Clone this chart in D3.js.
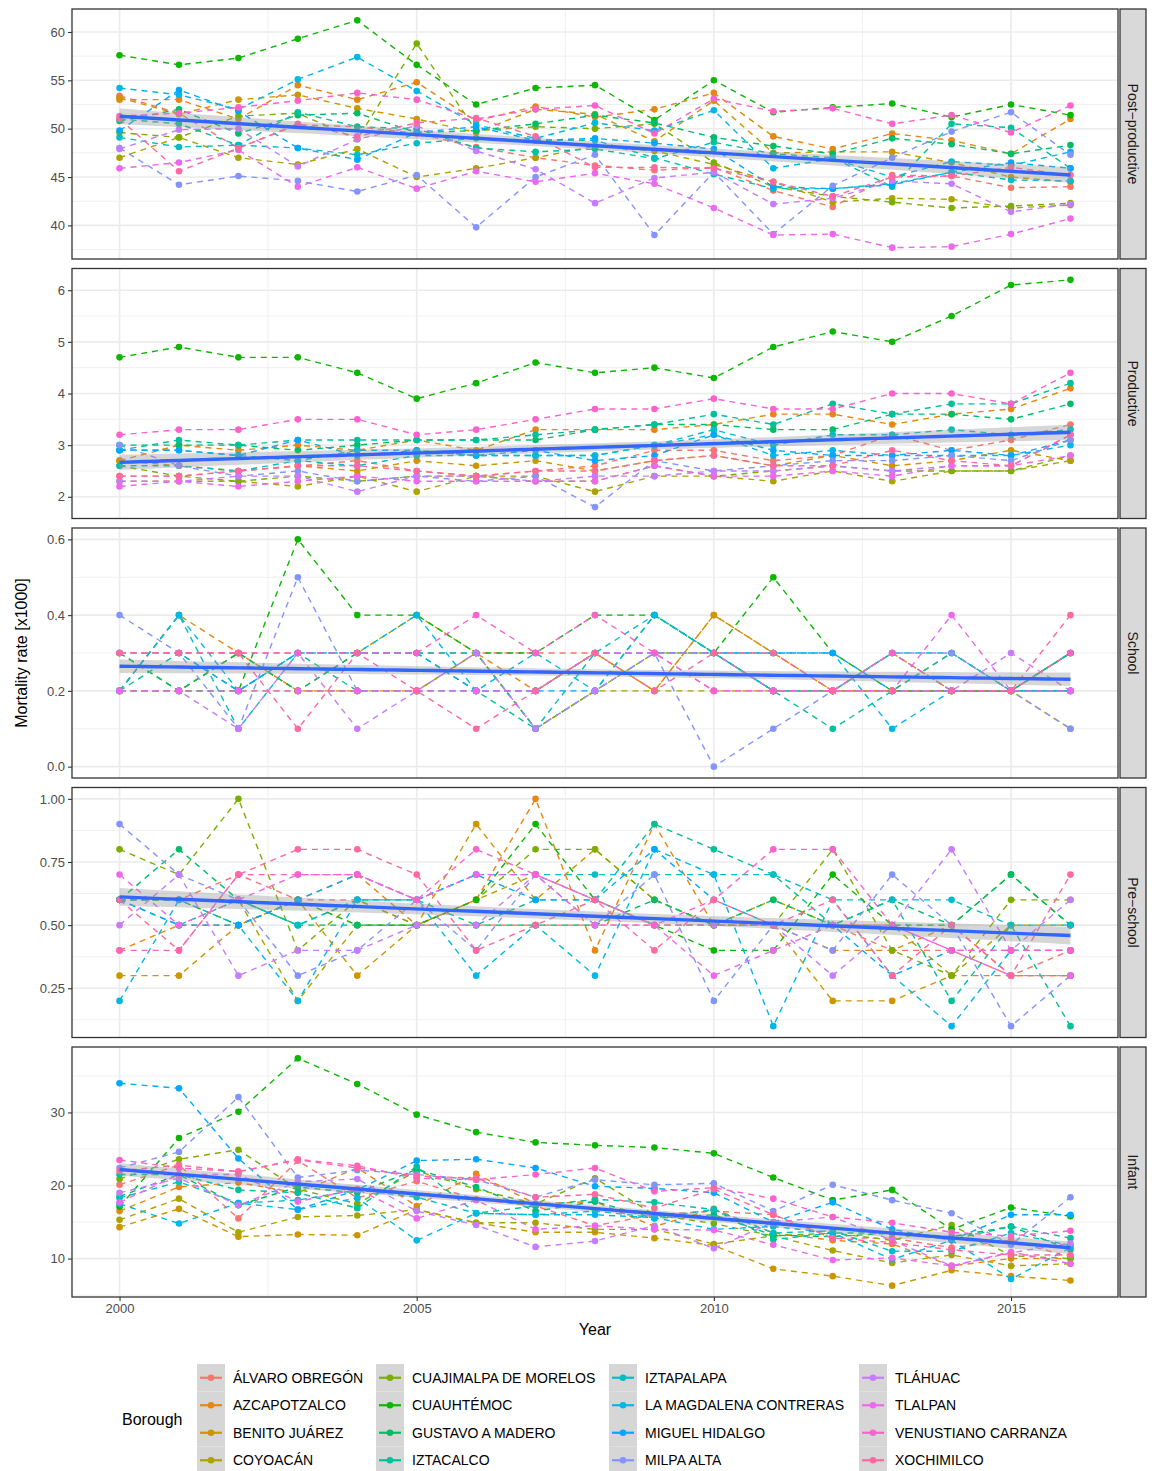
<!DOCTYPE html>
<html>
<head>
<meta charset="utf-8">
<script src="https://cdn.jsdelivr.net/npm/d3@7/dist/d3.min.js"></script>
<style>
  body { margin: 0; background: #fff; }
  svg { display: block; }
  text { font-family: "Liberation Sans", Arial, Helvetica, sans-serif; }
</style>
</head>
<body>
<div id="chart"></div>
<script>
const years = [2000, 2001, 2002, 2003, 2004, 2005, 2006, 2007, 2008, 2009, 2010, 2011, 2012, 2013, 2014, 2015, 2016];

const boroughs = ['ÁLVARO OBREGÓN', 'AZCAPOTZALCO', 'BENITO JUÁREZ', 'COYOACÁN',
  'CUAJIMALPA DE MORELOS', 'CUAUHTÉMOC', 'GUSTAVO A MADERO', 'IZTACALCO',
  'IZTAPALAPA', 'LA MAGDALENA CONTRERAS', 'MIGUEL HIDALGO', 'MILPA ALTA',
  'TLÁHUAC', 'TLALPAN', 'VENUSTIANO CARRANZA', 'XOCHIMILCO'];

// one row per borough (same order as above), one value per year
const postProductive = [
  [53.4, 51.6, 48.0, 50.4, 50.2, 49.5, 48.1, 47.0, 46.2, 45.7, 46.0, 43.6, 41.9, 45.2, 45.1, 43.9, 44.0],
  [53.0, 53.0, 51.0, 54.5, 53.0, 54.8, 50.8, 52.3, 51.2, 52.0, 53.7, 49.2, 47.9, 49.5, 48.8, 47.4, 51.0],
  [53.2, 51.5, 53.0, 53.5, 52.1, 51.0, 49.6, 52.0, 51.5, 48.7, 52.9, 47.5, 47.6, 47.6, 46.5, 45.0, 44.5],
  [47.0, 49.1, 47.0, 46.3, 47.9, 45.0, 45.9, 47.0, 48.2, 47.7, 46.3, 44.5, 42.4, 42.8, 42.7, 41.8, 42.1],
  [49.6, 49.1, 51.3, 51.6, 48.9, 58.8, 49.8, 50.2, 50.0, 50.5, 46.5, 44.0, 43.0, 42.4, 41.8, 42.0, 42.3],
  [57.6, 56.6, 57.3, 59.3, 61.2, 56.6, 52.5, 54.2, 54.5, 50.9, 55.0, 51.7, 52.2, 52.6, 51.2, 52.5, 51.4],
  [50.8, 52.0, 49.5, 51.4, 51.6, 49.6, 49.8, 50.5, 51.4, 50.6, 49.1, 48.2, 47.4, 49.0, 48.4, 47.4, 48.3],
  [51.0, 50.5, 48.3, 51.7, 50.2, 50.0, 48.0, 47.6, 47.9, 46.9, 48.6, 47.4, 47.0, 44.0, 50.5, 50.1, 45.9],
  [49.1, 48.1, 48.3, 48.0, 47.3, 48.5, 49.0, 48.8, 48.8, 47.0, 45.3, 43.8, 43.8, 44.3, 45.5, 44.7, 44.6],
  [54.2, 53.5, 52.0, 55.1, 57.4, 53.9, 50.4, 49.0, 50.6, 49.8, 51.9, 45.9, 46.9, 45.0, 46.6, 46.2, 47.6],
  [49.8, 54.0, 51.8, 48.0, 46.8, 49.6, 50.2, 48.8, 49.0, 48.5, 47.9, 44.0, 43.8, 44.2, 45.5, 46.5, 45.9],
  [48.0, 44.2, 45.1, 44.6, 43.5, 45.2, 39.8, 45.0, 47.3, 39.0, 45.5, 39.1, 44.1, 47.0, 49.7, 51.7, 47.3],
  [47.9, 49.9, 50.0, 46.1, 48.9, 50.3, 47.7, 45.8, 42.3, 44.9, 45.5, 42.2, 42.8, 44.6, 44.3, 41.4, 42.2],
  [45.9, 46.5, 47.8, 44.0, 46.0, 43.8, 45.6, 44.5, 45.4, 44.3, 41.8, 39.0, 39.1, 37.7, 37.8, 39.1, 40.7],
  [51.3, 51.6, 52.2, 52.9, 53.7, 53.0, 51.0, 52.0, 52.4, 49.5, 53.1, 51.8, 52.1, 50.5, 51.4, 49.6, 52.4],
  [51.0, 45.6, 48.0, 50.5, 49.2, 50.6, 51.1, 49.2, 46.0, 46.0, 45.9, 44.5, 43.0, 45.0, 45.1, 46.0, 45.2]
];

const productive = [
  [2.4, 2.4, 2.5, 2.6, 2.7, 2.5, 2.4, 2.5, 2.6, 2.9, 2.9, 2.7, 2.8, 3.2, 2.9, 3.1, 3.4],
  [2.7, 3.0, 2.9, 3.0, 2.9, 3.1, 2.9, 3.3, 3.3, 3.3, 3.4, 3.6, 3.6, 3.4, 3.6, 3.7, 4.1],
  [2.7, 2.6, 2.5, 2.6, 2.5, 2.7, 2.6, 2.7, 2.5, 2.7, 2.8, 2.6, 2.8, 2.6, 2.7, 2.9, 2.7],
  [2.3, 2.3, 2.3, 2.2, 2.4, 2.1, 2.4, 2.4, 2.1, 2.4, 2.4, 2.3, 2.5, 2.3, 2.5, 2.5, 2.7],
  [2.6, 2.4, 2.3, 2.4, 2.3, 2.4, 2.4, 2.3, 2.3, 2.6, 2.4, 2.5, 2.6, 2.5, 2.5, 2.5, 2.8],
  [4.7, 4.9, 4.7, 4.7, 4.4, 3.9, 4.2, 4.6, 4.4, 4.5, 4.3, 4.9, 5.2, 5.0, 5.5, 6.1, 6.2],
  [3.0, 3.0, 3.0, 2.9, 3.0, 3.1, 3.1, 3.1, 3.3, 3.4, 3.4, 3.3, 3.3, 3.6, 3.6, 3.5, 3.8],
  [2.9, 3.1, 3.0, 3.1, 3.1, 3.1, 3.1, 3.2, 3.3, 3.4, 3.6, 3.4, 3.8, 3.6, 3.8, 3.8, 4.2],
  [2.6, 2.6, 2.5, 2.7, 2.6, 2.8, 2.8, 2.8, 2.8, 3.0, 3.3, 3.0, 3.2, 3.2, 3.3, 3.2, 3.3],
  [2.9, 2.9, 2.8, 2.7, 2.9, 2.9, 2.8, 2.8, 2.8, 3.0, 3.2, 2.8, 2.9, 2.8, 2.8, 2.8, 3.0],
  [2.9, 2.9, 2.8, 3.1, 2.8, 2.9, 2.8, 2.9, 2.7, 2.8, 3.2, 2.9, 2.8, 2.8, 2.9, 2.8, 3.1],
  [3.0, 2.6, 2.4, 2.5, 2.3, 2.4, 2.3, 2.4, 1.8, 2.7, 2.5, 2.6, 2.7, 2.7, 2.8, 2.7, 3.1],
  [2.3, 2.3, 2.4, 2.4, 2.1, 2.4, 2.4, 2.3, 2.4, 2.4, 2.5, 2.5, 2.6, 2.5, 2.6, 2.6, 3.2],
  [2.2, 2.3, 2.2, 2.3, 2.4, 2.3, 2.3, 2.3, 2.3, 2.6, 2.4, 2.4, 2.5, 2.4, 2.6, 2.6, 2.8],
  [3.2, 3.3, 3.3, 3.5, 3.5, 3.2, 3.3, 3.5, 3.7, 3.7, 3.9, 3.7, 3.7, 4.0, 4.0, 3.8, 4.4],
  [2.4, 2.4, 2.5, 2.6, 2.6, 2.5, 2.4, 2.5, 2.5, 2.7, 2.8, 2.6, 2.6, 2.9, 2.7, 2.6, 3.2]
];

const school = [
  [0.3, 0.3, 0.3, 0.3, 0.3, 0.3, 0.3, 0.3, 0.3, 0.3, 0.3, 0.2, 0.2, 0.2, 0.2, 0.2, 0.3],
  [0.2, 0.4, 0.3, 0.2, 0.2, 0.2, 0.3, 0.2, 0.3, 0.2, 0.4, 0.3, 0.2, 0.3, 0.2, 0.2, 0.2],
  [0.2, 0.2, 0.3, 0.2, 0.2, 0.2, 0.2, 0.2, 0.3, 0.2, 0.4, 0.3, 0.2, 0.2, 0.3, 0.2, 0.1],
  [0.2, 0.2, 0.3, 0.2, 0.3, 0.4, 0.3, 0.1, 0.2, 0.2, 0.2, 0.2, 0.2, 0.2, 0.2, 0.2, 0.2],
  [0.3, 0.2, 0.2, 0.2, 0.2, 0.2, 0.3, 0.1, 0.2, 0.3, 0.3, 0.2, 0.2, 0.2, 0.2, 0.2, 0.3],
  [0.2, 0.2, 0.2, 0.6, 0.4, 0.4, 0.3, 0.3, 0.4, 0.4, 0.3, 0.5, 0.3, 0.2, 0.2, 0.2, 0.3],
  [0.3, 0.2, 0.3, 0.2, 0.3, 0.3, 0.2, 0.2, 0.3, 0.3, 0.3, 0.2, 0.2, 0.3, 0.2, 0.2, 0.3],
  [0.2, 0.3, 0.2, 0.3, 0.2, 0.2, 0.2, 0.1, 0.2, 0.4, 0.3, 0.2, 0.1, 0.2, 0.3, 0.2, 0.2],
  [0.2, 0.4, 0.1, 0.3, 0.3, 0.3, 0.3, 0.1, 0.3, 0.4, 0.3, 0.2, 0.2, 0.3, 0.3, 0.2, 0.3],
  [0.2, 0.4, 0.2, 0.3, 0.3, 0.4, 0.2, 0.3, 0.2, 0.4, 0.3, 0.3, 0.3, 0.1, 0.2, 0.2, 0.2],
  [0.3, 0.3, 0.2, 0.3, 0.3, 0.3, 0.2, 0.2, 0.2, 0.3, 0.3, 0.3, 0.3, 0.2, 0.2, 0.2, 0.2],
  [0.4, 0.3, 0.1, 0.5, 0.2, 0.2, 0.2, 0.2, 0.3, 0.3, 0.0, 0.1, 0.2, 0.3, 0.3, 0.2, 0.1],
  [0.2, 0.2, 0.1, 0.3, 0.1, 0.2, 0.3, 0.1, 0.2, 0.3, 0.3, 0.2, 0.2, 0.2, 0.2, 0.3, 0.2],
  [0.2, 0.2, 0.2, 0.2, 0.2, 0.2, 0.2, 0.2, 0.3, 0.3, 0.2, 0.2, 0.2, 0.2, 0.4, 0.2, 0.2],
  [0.3, 0.3, 0.3, 0.3, 0.3, 0.3, 0.4, 0.3, 0.4, 0.3, 0.2, 0.2, 0.2, 0.3, 0.2, 0.2, 0.3],
  [0.3, 0.3, 0.3, 0.1, 0.3, 0.2, 0.1, 0.2, 0.3, 0.2, 0.3, 0.3, 0.2, 0.2, 0.2, 0.2, 0.4]
];

const preSchool = [
  [0.6, 0.6, 0.7, 0.6, 0.6, 0.5, 0.5, 0.5, 0.5, 0.5, 0.5, 0.5, 0.5, 0.4, 0.4, 0.3, 0.4],
  [0.4, 0.5, 0.5, 0.6, 0.7, 0.5, 0.6, 1.0, 0.4, 0.9, 0.5, 0.5, 0.4, 0.4, 0.5, 0.3, 0.3],
  [0.3, 0.3, 0.5, 0.6, 0.3, 0.5, 0.9, 0.6, 0.8, 0.6, 0.5, 0.5, 0.2, 0.2, 0.3, 0.3, 0.3],
  [0.6, 0.6, 0.6, 0.2, 0.5, 0.5, 0.6, 0.7, 0.6, 0.5, 0.5, 0.6, 0.5, 0.5, 0.3, 0.5, 0.5],
  [0.8, 0.7, 1.0, 0.4, 0.6, 0.5, 0.6, 0.8, 0.8, 0.6, 0.5, 0.5, 0.8, 0.4, 0.3, 0.6, 0.6],
  [0.6, 0.6, 0.5, 0.6, 0.5, 0.5, 0.6, 0.9, 0.6, 0.5, 0.4, 0.4, 0.7, 0.5, 0.5, 0.7, 0.5],
  [0.6, 0.8, 0.6, 0.5, 0.5, 0.5, 0.5, 0.5, 0.5, 0.6, 0.5, 0.6, 0.5, 0.6, 0.5, 0.7, 0.5],
  [0.6, 0.5, 0.6, 0.5, 0.6, 0.6, 0.5, 0.6, 0.6, 0.9, 0.8, 0.7, 0.5, 0.6, 0.2, 0.5, 0.1],
  [0.6, 0.6, 0.6, 0.5, 0.6, 0.6, 0.7, 0.7, 0.7, 0.7, 0.7, 0.7, 0.6, 0.6, 0.6, 0.5, 0.5],
  [0.2, 0.6, 0.5, 0.2, 0.6, 0.6, 0.3, 0.5, 0.3, 0.8, 0.7, 0.1, 0.6, 0.3, 0.1, 0.4, 0.4],
  [0.6, 0.5, 0.5, 0.6, 0.7, 0.6, 0.7, 0.6, 0.6, 0.8, 0.6, 0.5, 0.5, 0.3, 0.4, 0.4, 0.4],
  [0.9, 0.7, 0.6, 0.3, 0.4, 0.6, 0.4, 0.7, 0.5, 0.7, 0.2, 0.5, 0.4, 0.7, 0.5, 0.1, 0.3],
  [0.5, 0.7, 0.3, 0.4, 0.4, 0.5, 0.5, 0.7, 0.6, 0.5, 0.5, 0.5, 0.3, 0.5, 0.8, 0.4, 0.6],
  [0.7, 0.5, 0.6, 0.7, 0.7, 0.6, 0.7, 0.7, 0.5, 0.5, 0.3, 0.4, 0.5, 0.5, 0.4, 0.3, 0.3],
  [0.4, 0.4, 0.7, 0.7, 0.7, 0.6, 0.8, 0.7, 0.6, 0.5, 0.6, 0.8, 0.8, 0.5, 0.4, 0.4, 0.4],
  [0.6, 0.4, 0.7, 0.8, 0.8, 0.7, 0.4, 0.5, 0.6, 0.4, 0.6, 0.5, 0.6, 0.3, 0.5, 0.3, 0.7]
];

const infant = [
  [20.1, 22.8, 15.5, 23.4, 18.3, 20.6, 18.1, 17.2, 14.5, 16.0, 16.5, 16.0, 12.8, 12.8, 11.5, 12.5, 10.2],
  [16.5, 19.8, 20.4, 19.0, 22.4, 17.2, 21.6, 17.5, 17.8, 14.4, 16.8, 13.5, 12.5, 12.0, 9.0, 10.0, 10.0],
  [14.3, 16.8, 13.0, 13.3, 13.2, 16.7, 14.9, 13.6, 13.6, 12.8, 11.8, 8.6, 7.6, 6.3, 8.4, 7.6, 7.0],
  [15.3, 18.2, 13.6, 15.7, 15.9, 16.7, 14.9, 14.9, 14.0, 14.0, 12.0, 13.1, 11.1, 9.4, 10.5, 9.0, 9.3],
  [20.9, 23.6, 24.9, 19.5, 17.5, 22.0, 19.5, 17.5, 21.0, 16.0, 14.8, 13.1, 13.5, 12.5, 14.6, 10.4, 10.0],
  [17.1, 26.5, 30.1, 37.4, 33.9, 29.7, 27.3, 25.9, 25.5, 25.2, 24.4, 21.1, 18.0, 19.4, 14.0, 17.0, 15.8],
  [18.5, 21.5, 17.3, 19.8, 19.0, 22.2, 19.8, 16.5, 17.8, 15.5, 16.0, 13.2, 13.0, 13.5, 13.0, 14.4, 11.2],
  [21.5, 21.5, 19.4, 19.0, 16.9, 22.6, 16.2, 17.2, 18.1, 17.7, 16.7, 12.6, 13.5, 13.5, 12.6, 14.4, 12.8],
  [18.3, 20.5, 17.6, 18.0, 19.4, 18.4, 16.2, 16.0, 16.5, 15.6, 16.7, 13.5, 13.8, 11.0, 11.0, 13.5, 11.8],
  [17.5, 14.8, 17.6, 16.7, 18.3, 12.5, 16.2, 16.0, 16.0, 15.6, 14.0, 14.4, 13.5, 9.9, 12.5, 7.2, 11.5],
  [34.0, 33.3, 23.7, 16.7, 19.4, 23.4, 23.6, 22.4, 19.9, 19.6, 19.0, 15.0, 17.7, 14.0, 12.5, 16.0, 16.0],
  [22.4, 24.6, 32.1, 21.1, 22.1, 21.5, 20.8, 18.4, 20.8, 20.1, 20.3, 16.5, 20.1, 18.0, 16.2, 11.9, 18.4],
  [19.0, 21.0, 17.3, 20.5, 20.9, 16.5, 14.6, 11.6, 12.4, 14.5, 11.4, 15.0, 15.7, 12.5, 9.0, 10.8, 12.1],
  [17.7, 21.5, 21.5, 17.8, 19.5, 15.5, 18.0, 14.0, 14.5, 14.0, 13.9, 11.9, 9.8, 10.1, 9.0, 10.9, 9.3],
  [23.5, 22.4, 21.9, 23.6, 22.7, 21.0, 20.8, 21.5, 22.4, 19.2, 19.7, 18.2, 15.7, 14.9, 13.6, 13.1, 13.8],
  [22.0, 22.8, 21.9, 23.5, 22.4, 21.3, 21.0, 18.4, 18.8, 16.9, 19.5, 16.0, 12.8, 12.2, 11.2, 10.5, 10.5]
];

const xTicks = [2000, 2005, 2010, 2015];
const postTicks = [40, 45, 50, 55, 60];
const prodTicks = [2, 3, 4, 5, 6];
const schoolTicks = [0, 0.2, 0.4, 0.6];
const preTicks = [0.25, 0.5, 0.75, 1];
const infantTicks = [10, 20, 30];

const panels = [
  { label: 'Post\u2212productive', values: postProductive, ticks: postTicks, fmt: d3.format('d') },
  { label: 'Productive', values: productive, ticks: prodTicks, fmt: d3.format('d') },
  { label: 'School', values: school, ticks: schoolTicks, fmt: d3.format('.1f') },
  { label: 'Pre\u2212school', values: preSchool, ticks: preTicks, fmt: d3.format('.2f') },
  { label: 'Infant', values: infant, ticks: infantTicks, fmt: d3.format('d') }
];

// ggplot2 default hue palette: hcl(h, c = 100, l = 65) in polar CIE-Luv
function hclLuv(h, c, l) {
  const Xn = 95.047, Yn = 100, Zn = 108.883;
  const hr = h * Math.PI / 180;
  const U = c * Math.cos(hr), V = c * Math.sin(hr);
  const Y = l > 7.999592 ? Yn * Math.pow((l + 16) / 116, 3) : Yn * l / 903.3;
  const den = Xn + 15 * Yn + 3 * Zn;
  const u = U / (13 * l) + 4 * Xn / den;
  const v = V / (13 * l) + 9 * Yn / den;
  const X = 9 * Y * u / (4 * v);
  const Z = Y * (12 - 3 * u - 20 * v) / (4 * v);
  const lin = [
    3.240479 * X - 1.537150 * Y - 0.498535 * Z,
    -0.969256 * X + 1.875992 * Y + 0.041556 * Z,
    0.055648 * X - 0.204043 * Y + 1.057311 * Z
  ].map(q => q / 100);
  const g = lin.map(q => q <= 0.0031308 ? 12.92 * q : 1.055 * Math.pow(q, 1 / 2.4) - 0.055);
  return d3.rgb(...g.map(q => Math.round(Math.max(0, Math.min(1, q)) * 255))).formatHex();
}
const hues = d3.range(boroughs.length).map(i => 15 + i * 360 / boroughs.length);
const color = d3.scaleOrdinal().domain(boroughs).range(hues.map(h => hclLuv(h, 100, 65)));

const W = 1152, H = 1471;
const plotL = 72, plotR = 1118;
const panelTop0 = 9, panelH = 250, panelStep = 259.5;
const stripX = 1120, stripW = 26;

const svg = d3.select('#chart').append('svg').attr('width', W).attr('height', H);
svg.append('rect').attr('width', W).attr('height', H).attr('fill', '#fff');

const yrExt = d3.extent(years);
const yrPad = (yrExt[1] - yrExt[0]) * 0.05;
const x = d3.scaleLinear().domain([yrExt[0] - yrPad, yrExt[1] + yrPad]).range([plotL, plotR]);
const xMinor = xTicks.slice(0, -1).map((t, i) => (t + xTicks[i + 1]) / 2);

const line = d3.line();

panels.forEach((p, pi) => {
  const top = panelTop0 + pi * panelStep;
  const all = p.values.flat();
  const ext = d3.extent(all);
  const pad = (ext[1] - ext[0]) * 0.05;
  const y = d3.scaleLinear().domain([ext[0] - pad, ext[1] + pad]).range([top + panelH, top]);
  const dom = y.domain();

  const g = svg.append('g');
  g.append('rect').attr('x', plotL).attr('y', top).attr('width', plotR - plotL).attr('height', panelH).attr('fill', '#fff');

  // grid
  const step = p.ticks[1] - p.ticks[0];
  const yMinor = [p.ticks[0] - step / 2, ...p.ticks.map(t => t + step / 2)].filter(v => v > dom[0] && v < dom[1]);
  g.selectAll('.ymin').data(yMinor).enter().append('line')
    .attr('x1', plotL).attr('x2', plotR).attr('y1', d => y(d)).attr('y2', d => y(d))
    .attr('stroke', '#EBEBEB').attr('stroke-width', 0.8);
  g.selectAll('.xmin').data(xMinor).enter().append('line')
    .attr('y1', top).attr('y2', top + panelH).attr('x1', d => x(d)).attr('x2', d => x(d))
    .attr('stroke', '#EBEBEB').attr('stroke-width', 0.8);
  g.selectAll('.ymaj').data(p.ticks).enter().append('line')
    .attr('x1', plotL).attr('x2', plotR).attr('y1', d => y(d)).attr('y2', d => y(d))
    .attr('stroke', '#EBEBEB').attr('stroke-width', 1.6);
  g.selectAll('.xmaj').data(xTicks).enter().append('line')
    .attr('y1', top).attr('y2', top + panelH).attr('x1', d => x(d)).attr('x2', d => x(d))
    .attr('stroke', '#EBEBEB').attr('stroke-width', 1.6);

  const clipId = 'clip' + pi;
  svg.append('clipPath').attr('id', clipId).append('rect')
    .attr('x', plotL).attr('y', top).attr('width', plotR - plotL).attr('height', panelH);
  const inner = g.append('g').attr('clip-path', `url(#${clipId})`);

  // borough lines
  inner.selectAll('path.series').data(p.values).enter().append('path')
    .attr('fill', 'none')
    .attr('stroke', (d, i) => color(boroughs[i]))
    .attr('stroke-width', 1.4)
    .attr('stroke-dasharray', '6,5')
    .attr('d', d => line(d.map((v, j) => [x(years[j]), y(v)])));

  // points
  p.values.forEach((row, i) => {
    inner.selectAll(null).data(row).enter().append('circle')
      .attr('cx', (v, j) => x(years[j])).attr('cy', v => y(v)).attr('r', 3.3)
      .attr('fill', color(boroughs[i]));
  });

  // linear fit with 95% band
  const pts = [];
  p.values.forEach(row => row.forEach((v, j) => pts.push([years[j], v])));
  const n = pts.length;
  const mx = d3.mean(pts, d => d[0]), my = d3.mean(pts, d => d[1]);
  const sxx = d3.sum(pts, d => (d[0] - mx) ** 2);
  const sxy = d3.sum(pts, d => (d[0] - mx) * (d[1] - my));
  const b = sxy / sxx, a = my - b * mx;
  const s = Math.sqrt(d3.sum(pts, d => (d[1] - a - b * d[0]) ** 2) / (n - 2));
  const tq = 1.9689;
  const grid = d3.range(80).map(k => yrExt[0] + (yrExt[1] - yrExt[0]) * k / 79);
  const fit = grid.map(xx => {
    const se = s * Math.sqrt(1 / n + (xx - mx) ** 2 / sxx);
    const f = a + b * xx;
    return { x: xx, f, lo: f - tq * se, hi: f + tq * se };
  });
  inner.append('path').datum(fit)
    .attr('fill', '#999999').attr('fill-opacity', 0.4)
    .attr('d', d3.area().x(d => x(d.x)).y0(d => y(d.lo)).y1(d => y(d.hi)));
  inner.append('path').datum(fit)
    .attr('fill', 'none').attr('stroke', '#3366FF').attr('stroke-width', 3.4)
    .attr('d', d3.line().x(d => x(d.x)).y(d => y(d.f)));

  g.append('rect').attr('x', plotL).attr('y', top).attr('width', plotR - plotL).attr('height', panelH)
    .attr('fill', 'none').attr('stroke', '#333333').attr('stroke-width', 1.3);

  // y axis
  const ax = g.append('g').attr('transform', `translate(${plotL},0)`)
    .call(d3.axisLeft(y).tickValues(p.ticks).tickFormat(p.fmt).tickSize(4).tickPadding(3));
  ax.select('.domain').remove();
  ax.selectAll('.tick line').attr('stroke', '#333333').attr('stroke-width', 1.1);
  ax.selectAll('.tick text').attr('fill', '#4D4D4D').style('font-size', '13px')
    .style('font-family', '"Liberation Sans", Arial, sans-serif');

  // strip
  g.append('rect').attr('x', stripX).attr('y', top).attr('width', stripW).attr('height', panelH)
    .attr('fill', '#D9D9D9').attr('stroke', '#333333').attr('stroke-width', 1.3);
  g.append('text')
    .attr('transform', `translate(${stripX + stripW / 2},${top + panelH / 2}) rotate(90)`)
    .attr('text-anchor', 'middle').attr('dy', '0.35em')
    .attr('fill', '#1A1A1A').style('font-size', '14px')
    .text(p.label);

  if (pi === panels.length - 1) {
    const xa = g.append('g').attr('transform', `translate(0,${top + panelH})`)
      .call(d3.axisBottom(x).tickValues(xTicks).tickFormat(d3.format('d')).tickSize(4).tickPadding(3));
    xa.select('.domain').remove();
    xa.selectAll('.tick line').attr('stroke', '#333333').attr('stroke-width', 1.1);
    xa.selectAll('.tick text').attr('fill', '#4D4D4D').style('font-size', '13px')
      .style('font-family', '"Liberation Sans", Arial, sans-serif');
  }
});

// axis titles
const lastBottom = panelTop0 + (panels.length - 1) * panelStep + panelH;
svg.append('text').attr('x', (plotL + plotR) / 2).attr('y', lastBottom + 38)
  .attr('text-anchor', 'middle').style('font-size', '16px').attr('fill', '#000').text('Year');
svg.append('text')
  .attr('transform', `translate(27,${(panelTop0 + lastBottom) / 2}) rotate(-90)`)
  .attr('text-anchor', 'middle').style('font-size', '16px').attr('fill', '#000')
  .text('Mortality rate [x1000]');

// legend
const legendCols = [197, 376, 609, 859];
const legendTop = 1364, keyH = 27.5, keyW = 28;
const lg = svg.append('g');
lg.append('text').attr('x', 122).attr('y', legendTop + keyH * 2).attr('dy', '0.35em')
  .style('font-size', '16px').attr('fill', '#000').text('Borough');
boroughs.forEach((b, i) => {
  const col = Math.floor(i / 4), row = i % 4;
  const kx = legendCols[col], ky = legendTop + row * keyH;
  lg.append('rect').attr('x', kx).attr('y', ky).attr('width', keyW).attr('height', keyH).attr('fill', '#D6D6D6');
  lg.append('line').attr('x1', kx + 3).attr('x2', kx + keyW - 3).attr('y1', ky + keyH / 2).attr('y2', ky + keyH / 2)
    .attr('stroke', color(b)).attr('stroke-width', 2.2);
  lg.append('circle').attr('cx', kx + keyW / 2).attr('cy', ky + keyH / 2).attr('r', 3.3).attr('fill', color(b));
  lg.append('text').attr('x', kx + keyW + 8).attr('y', ky + keyH / 2).attr('dy', '0.35em')
    .style('font-size', '14px').attr('fill', '#000').text(b);
});
</script>
</body>
</html>
